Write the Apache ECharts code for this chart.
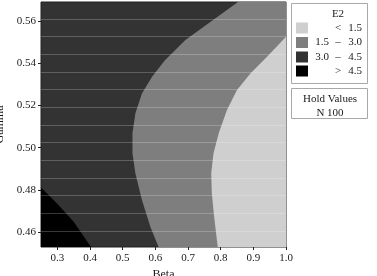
<!DOCTYPE html>
<html><head><meta charset="utf-8">
<script src="https://cdn.jsdelivr.net/npm/echarts@6/dist/echarts.min.js"></script>
<style>html,body{margin:0;padding:0;background:#fff}#c{width:377px;height:276px}</style>
</head><body><div id="c"></div>
<script>
// Contour boundaries: [Beta, Gamma]
const contour30 = [[0.853,0.569],[0.763,0.5589],[0.692,0.5510],[0.630,0.5415],[0.590,0.5336],[0.559,0.5257],[0.539,0.5163],[0.530,0.5068],[0.530,0.4974],[0.539,0.4878],[0.559,0.4752],[0.585,0.4625],[0.610,0.453]];
const contour15 = [[1.0,0.5526],[0.942,0.5431],[0.891,0.5352],[0.850,0.5273],[0.819,0.5178],[0.794,0.5068],[0.778,0.4973],[0.771,0.4878],[0.773,0.4783],[0.780,0.4673],[0.791,0.453]];
const contour45 = [[0.25,0.4812],[0.299,0.4736],[0.350,0.4649],[0.403,0.453]];
const xRange = [0.25, 1.0];
const yRange = [0.453, 0.569];
const xTicks = [0.3,0.4,0.5,0.6,0.7,0.8,0.9,1.0];
const yTicks = [0.46,0.48,0.50,0.52,0.54,0.56];
const legendTitle = 'E2';
const legendRows = [['', '<', '1.5'], ['1.5', '–', '3.0'], ['3.0', '–', '4.5'], ['', '>', '4.5']];
const holdLines = ['Hold Values', 'N 100'];

const colors = {light:'#cfcfcf', mid:'#7e7e7e', dark:'#333333', black:'#000000'};
const legendColors = [colors.light, colors.mid, colors.dark, colors.black];
const FONT = 'Liberation Serif';

const regions = [
  {color: colors.mid, pts: contour30.concat([[xRange[1], yRange[0]], [xRange[1], yRange[1]]])},
  {color: colors.light, pts: contour15.concat([[xRange[1], yRange[0]]])},
  {color: colors.black, pts: contour45.concat([[xRange[0], yRange[0]]])}
];

const chart = echarts.init(document.getElementById('c'), null, {renderer:'canvas'});
const txt = {fontFamily: FONT, fontSize: 11, color: '#1a1a1a'};
const f11 = '11px "' + FONT + '"';

const graphics = [];
graphics.push({type:'rect', shape:{x:291.5,y:3.5,width:76,height:80}, style:{fill:'#fff', stroke:'#a8a8a8', lineWidth:1}, z:10});
graphics.push({type:'rect', shape:{x:291.5,y:88.5,width:76,height:30}, style:{fill:'#fff', stroke:'#a8a8a8', lineWidth:1}, z:10});
graphics.push({type:'text', x:338, y:14, style:{text:legendTitle, font:f11, fill:'#1a1a1a', align:'center', verticalAlign:'middle'}, z:11});
const rowY = [28, 42.5, 57, 71];
legendRows.forEach((r, i) => {
  graphics.push({type:'rect', shape:{x:296, y:rowY[i]-5.5, width:12, height:11}, style:{fill:legendColors[i]}, z:11});
  if (r[0]) graphics.push({type:'text', x:329, y:rowY[i], style:{text:r[0], font:f11, fill:'#1a1a1a', align:'right', verticalAlign:'middle'}, z:11});
  graphics.push({type:'text', x:338, y:rowY[i], style:{text:r[1], font:f11, fill:'#1a1a1a', align:'center', verticalAlign:'middle'}, z:11});
  graphics.push({type:'text', x:362, y:rowY[i], style:{text:r[2], font:f11, fill:'#1a1a1a', align:'right', verticalAlign:'middle'}, z:11});
});
holdLines.forEach((t, i) => {
  graphics.push({type:'text', x:330, y:99 + i*14, style:{text:t, font:f11, fill:'#1a1a1a', align:'center', verticalAlign:'middle'}, z:11});
});

chart.setOption({
  animation: false,
  backgroundColor: '#fff',
  grid: [
    {left:41, right:91, top:2, bottom:29, show:true, backgroundColor:colors.dark, borderColor:'#222', borderWidth:1, containLabel:false, outerBoundsMode:'none'},
    {left:41, right:91, top:19, bottom:45, containLabel:false, outerBoundsMode:'none'}
  ],
  xAxis: [
    {type:'value', gridIndex:0, min:xRange[0], max:xRange[1], name:'Beta', nameLocation:'middle', nameGap:22,
     nameTextStyle:{fontFamily:FONT, fontSize:12, color:'#1a1a1a', verticalAlign:'top'},
     axisLine:{show:false}, splitLine:{show:false},
     axisTick:{show:true, length:3, lineStyle:{color:'#222'}, customValues:xTicks},
     axisLabel:Object.assign({margin:6, customValues:xTicks, formatter:v=>v.toFixed(1)}, txt)},
    {type:'value', gridIndex:1, min:0, max:1, show:false}
  ],
  yAxis: [
    {type:'value', gridIndex:0, min:yRange[0], max:yRange[1], name:'Gamma', nameLocation:'middle', nameGap:31,
     nameTextStyle:{fontFamily:FONT, fontSize:12, color:'#1a1a1a'},
     axisLine:{show:false}, splitLine:{show:false},
     axisTick:{show:true, length:3, lineStyle:{color:'#222'}, customValues:yTicks},
     axisLabel:Object.assign({margin:5, customValues:yTicks, formatter:v=>v.toFixed(2)}, txt)},
    {type:'value', gridIndex:1, min:0, max:12, interval:1, z:5,
     axisLine:{show:false}, axisTick:{show:false}, axisLabel:{show:false},
     splitLine:{show:true, lineStyle:{color:'rgba(255,255,255,0.22)', width:1}}}
  ],
  graphic: graphics,
  series: [{
    type:'custom', xAxisIndex:0, yAxisIndex:0, clip:true, z:2,
    data: regions.map((r, i) => [i]),
    renderItem: function(params, api) {
      const reg = regions[params.dataIndex];
      return {type:'polygon', shape:{points: reg.pts.map(p => api.coord(p))}, style:{fill: reg.color, stroke: null}};
    }
  }]
});
</script></body></html>
